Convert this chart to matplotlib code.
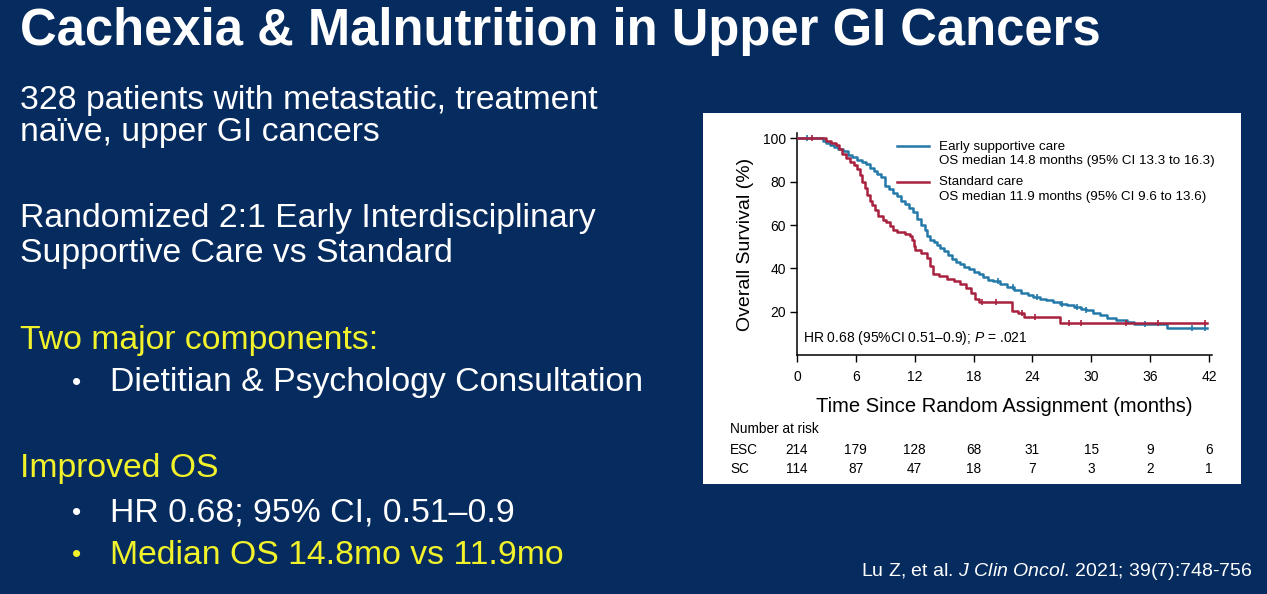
import numpy as np
import matplotlib
matplotlib.use("Agg")
import matplotlib.pyplot as plt
from matplotlib.patches import Rectangle

# --- DATI ---
# Curva ESC (early supportive care): tempi (mesi) e sopravvivenza (%)
esc_t = [0, 2.7, 3.0, 3.4, 3.8, 4.2, 4.7, 5.2, 5.6, 6.1, 6.6, 7.0, 7.4, 7.8, 8.2, 8.6,
         9.0, 9.4, 9.8, 10.2, 10.6, 11.0, 11.4, 11.8, 12.2, 12.6, 13.0, 13.3, 13.6, 14.0,
         14.3, 14.6, 15.0, 15.4, 15.8, 16.2, 16.6, 17.0, 17.5, 18.0, 18.5, 19.0, 19.5,
         20.0, 20.7, 21.4, 22.1, 22.8, 23.5, 24.1, 24.8, 25.4, 26.1, 26.8, 27.5, 28.2,
         28.9, 29.5, 30.2, 30.9, 31.6, 32.5, 33.6, 34.3, 37.7, 41.8]
esc_s = [100, 99, 98, 97, 96, 95, 94, 92.5, 91.5, 90, 89, 88, 86.5, 85, 83.5, 82,
         78, 76.5, 75, 73.5, 71, 69.5, 68, 66, 63, 60, 57.5, 55, 53, 52,
         51, 49.5, 48, 46, 44.5, 43, 42, 40.5, 39.5, 38.5, 37.5, 36, 34.5,
         34, 33, 31.5, 30, 28.5, 27.5, 26.8, 26, 25.3, 24.5, 23.5, 23, 22.2,
         21.3, 20.6, 19.5, 18.3, 17.3, 16.2, 15.2, 14.5, 12.5, 12.5]

# Curva SC (standard care)
sc_t = [0, 3.0, 3.5, 3.95, 4.3, 4.6, 5.0, 5.4, 5.8, 6.1, 6.4, 6.6, 6.9, 7.1, 7.4, 7.6,
        7.9, 8.3, 8.8, 9.1, 9.5, 9.8, 10.2, 11.0, 11.5, 11.7, 11.9, 12.0, 12.6, 13.2,
        13.6, 13.9, 14.5, 15.3, 16.0, 16.6, 17.2, 17.7, 18.1, 18.5, 21.9, 22.5, 23.1,
        26.8, 41.8]
sc_s = [100, 99, 98, 97, 95, 93, 91, 89.3, 87.5, 86, 83, 80, 77, 74, 71, 69.3,
        67, 64, 62.2, 61.5, 59.5, 57.6, 57, 56, 55, 53, 50.5, 48.4, 47, 45,
        41, 37.6, 36.5, 35.3, 34, 33, 31, 28.4, 26, 24.5, 20.5, 19.2, 17.6,
        15.0, 15.0]

# Tempi dei pazienti censurati (trattini verticali)
esc_cens = [1.0, 20.5, 22.0, 24.5, 27.0, 28.5, 29.5, 35.5, 40.3, 41.6]
sc_cens = [1.5, 18.9, 20.3, 22.9, 24.3, 27.7, 28.9, 33.5, 36.8, 41.6]

# Numero a rischio
tempi_rischio = [0, 6, 12, 18, 24, 30, 36, 42]
rischio_esc = [214, 179, 128, 68, 31, 15, 9, 6]
rischio_sc = [114, 87, 47, 18, 7, 3, 2, 1]

etichetta_esc = "Early supportive care\nOS median 14.8 months (95% CI 13.3 to 16.3)"
etichetta_sc = "Standard care\nOS median 11.9 months (95% CI 9.6 to 13.6)"

# --- STILE ---
BLU_SFONDO = "#062b5f"
BLU = "#2479a9"
ROSSO = "#a8213f"
GIALLO = "#f2f22a"
W, H = 1267, 594

plt.rcParams["font.family"] = ["Liberation Sans", "DejaVu Sans"]
plt.rcParams["mathtext.fontset"] = "custom"
plt.rcParams["mathtext.it"] = "Liberation Sans:italic"
plt.rcParams["mathtext.rm"] = "Liberation Sans"

fig = plt.figure(figsize=(W / 100, H / 100), dpi=100, facecolor=BLU_SFONDO)


def fx(px):
    return px / W


def fy(py):
    return 1 - py / H


# --- TESTO DELLA SLIDE ---
fig.text(fx(20), fy(31), "Cachexia & Malnutrition in Upper GI Cancers", color="white",
         fontsize=36.5, fontweight="bold", va="center", ha="left")

righe = [
    (20, 100, "328 patients with metastatic, treatment", "white"),
    (20, 133, "naïve, upper GI cancers", "white"),
    (20, 219, "Randomized 2:1 Early Interdisciplinary", "white"),
    (20, 254, "Supportive Care vs Standard", "white"),
    (20, 340, "Two major components:", GIALLO),
    (110, 383, "Dietitian & Psychology Consultation", "white"),
    (20, 468, "Improved OS", GIALLO),
    (110, 513, "HR 0.68; 95% CI, 0.51–0.9", "white"),
    (110, 555, "Median OS 14.8mo vs 11.9mo", GIALLO),
]
for x, y, testo, colore in righe:
    fig.text(fx(x), fy(y), testo, color=colore, fontsize=24.3, va="center", ha="left")
    if x > 20:
        fig.text(fx(72), fy(y), "•", color=colore, fontsize=19, va="center", ha="left")

fig.text(fx(1252), fy(571),
         r"Lu Z, et al. $\it{J\ Clin\ Oncol}$. 2021; 39(7):748-756",
         color="white", fontsize=14, va="center", ha="right")

# --- PANNELLO BIANCO ---
fig.patches.append(Rectangle((fx(703), fy(484)), fx(1241) - fx(703), fy(113) - fy(484),
                             transform=fig.transFigure, facecolor="white",
                             edgecolor="none", zorder=-5))

# --- GRAFICO KAPLAN-MEIER ---
ax = fig.add_axes([fx(797), fy(355), fx(1212) - fx(797), fy(133) - fy(355)])
ax.set_facecolor("white")
ax.step(esc_t, esc_s, where="post", color=BLU, lw=1.8, label=etichetta_esc, zorder=3)
ax.step(sc_t, sc_s, where="post", color=ROSSO, lw=1.8, label=etichetta_sc, zorder=4)

# trattini dei censurati
idx_e = np.searchsorted(esc_t, esc_cens, side="right") - 1
idx_s = np.searchsorted(sc_t, sc_cens, side="right") - 1
ax.plot(esc_cens, np.array(esc_s)[idx_e], ls="none", marker="|", ms=5, mew=1.2,
        color=BLU, zorder=3)
ax.plot(sc_cens, np.array(sc_s)[idx_s], ls="none", marker="|", ms=5, mew=1.2,
        color=ROSSO, zorder=4)

ax.set_xlim(0, 42.3)
ax.set_ylim(0, 102.5)
ax.set_xticks(tempi_rischio)
ax.set_yticks([20, 40, 60, 80, 100])
for lato in ["top", "right"]:
    ax.spines[lato].set_visible(False)
for lato in ["left", "bottom"]:
    ax.spines[lato].set_linewidth(1.1)
ax.tick_params(direction="out", length=5, width=1, labelsize=10, colors="black")
ax.tick_params(axis="x", pad=6)
ax.tick_params(axis="y", pad=3)

font_narrow = ["Liberation Sans Narrow", "Liberation Sans", "DejaVu Sans"]
ax.set_ylabel("Overall Survival (%)", fontsize=14, family=font_narrow, labelpad=6)
ax.set_xlabel("Time Since Random Assignment (months)", fontsize=14.5,
              family=font_narrow, labelpad=9)

leg = ax.legend(loc="upper left", bbox_to_anchor=(0.229, 0.99), frameon=False,
                fontsize=9.6, handlelength=2.4, handletextpad=0.7, labelspacing=0.67,
                borderaxespad=0)
for t in leg.get_texts():
    t.set_linespacing(1.3)
# la linea della legenda va all'altezza della prima riga del testo
for linea in leg.get_lines():
    linea.set_ydata(np.asarray(linea.get_ydata()) + 5.6)

ax.text(0.015, 0.075, r"HR 0.68 (95%CI 0.51–0.9); $\it{P}$ = .021",
        transform=ax.transAxes, fontsize=10, ha="left", va="center")

# numero a rischio sotto l'asse
tr = ax.get_xaxis_transform()
y_esc = (355 - 450) / 222
y_sc = (355 - 469) / 222
fig.text(fx(730), fy(429), "Number at risk", fontsize=9.8, ha="left", va="center")
fig.text(fx(730), fy(450), "ESC", fontsize=9.8, ha="left", va="center")
fig.text(fx(730), fy(469), "SC", fontsize=9.8, ha="left", va="center")
for t, n1, n2 in zip(tempi_rischio, rischio_esc, rischio_sc):
    ax.text(t, y_esc, str(n1), transform=tr, fontsize=9.8, ha="center", va="center",
            clip_on=False)
    ax.text(t, y_sc, str(n2), transform=tr, fontsize=9.8, ha="center", va="center",
            clip_on=False)

fig.savefig("out.png", dpi=100, facecolor=BLU_SFONDO)
